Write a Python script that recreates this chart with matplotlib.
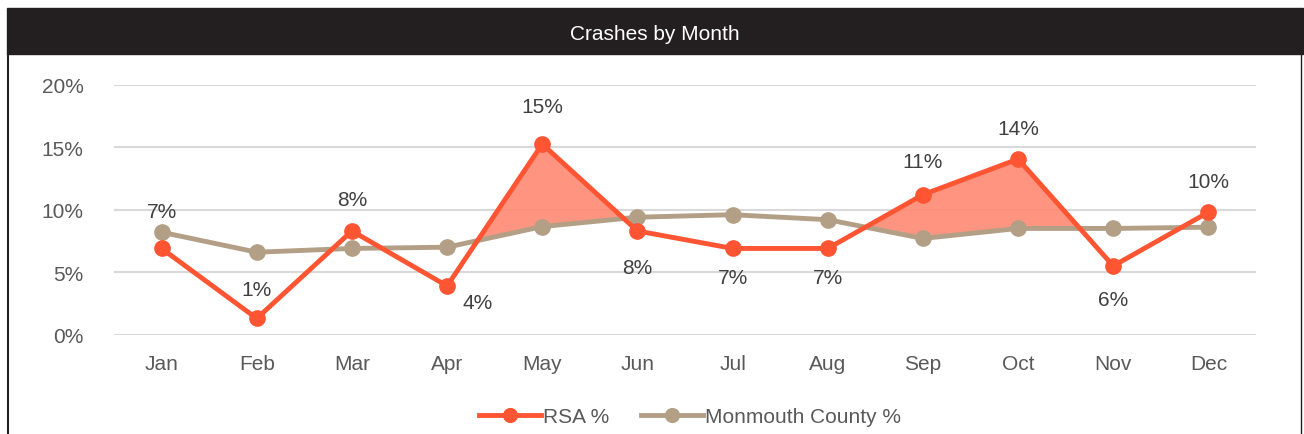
import numpy as np
import matplotlib.pyplot as plt
from matplotlib.patches import Rectangle
from matplotlib.lines import Line2D

plt.rcParams['font.family'] = ['Liberation Sans Narrow', 'Liberation Sans', 'DejaVu Sans']

months = ['Jan', 'Feb', 'Mar', 'Apr', 'May', 'Jun', 'Jul', 'Aug', 'Sep', 'Oct', 'Nov', 'Dec']
rsa = [6.9, 1.3, 8.3, 3.9, 15.25, 8.3, 6.9, 6.9, 11.2, 14.05, 5.5, 9.8]
county = [8.2, 6.6, 6.9, 7.0, 8.65, 9.4, 9.6, 9.2, 7.7, 8.5, 8.5, 8.6]
rsa_labels = ['7%', '1%', '8%', '4%', '15%', '8%', '7%', '7%', '11%', '14%', '6%', '10%']
# months whose excess over the county gets shaded
highlight = [False, False, False, True, True, True, False, True, True, True, True, False]

RED = '#ff5533'
TAN = '#b39f86'
GREY = '#595959'

fig = plt.figure(figsize=(13.04, 4.35), dpi=100)

# title bar and frame
fig.add_artist(Rectangle((7 / 1304, 1 - 55 / 435), 1296 / 1304, 46 / 435,
                         transform=fig.transFigure, color='#231f20', zorder=0))
fig.add_artist(Line2D([7.5 / 1304, 7.5 / 1304], [0, 1 - 55 / 435],
                      transform=fig.transFigure, color='#231f20', lw=1.5))
fig.add_artist(Line2D([1301 / 1304, 1301 / 1304], [0, 1 - 55 / 435],
                      transform=fig.transFigure, color='#231f20', lw=1.0))
fig.text(655 / 1304, 1 - 34 / 435, 'Crashes by Month', color='white',
         fontsize=15, ha='center', va='center')

ax = fig.add_axes([114 / 1304, 1 - 335.7 / 435, 1142 / 1304, 250 / 435])
x = np.arange(len(months))
r = np.array(rsa)
c = np.array(county)

ax.fill_between(x, r, c, where=(r > c) & np.array(highlight), interpolate=True,
                color='#ff8a73', alpha=0.9, lw=0, zorder=1)
ax.plot(x, county, color=TAN, lw=3.5, marker='o', ms=11, zorder=2,
        label='Monmouth County %')
ax.plot(x, rsa, color=RED, lw=3.5, marker='o', ms=11, zorder=3, label='RSA %')

# label offsets in points (dx, dy)
offsets = [(0, 15), (0, 21), (0, 23), (22, -12), (0, 27), (0, -26), (0, -21),
           (0, -21), (0, 24), (0, 22), (0, -24), (0, 22)]
for i, lab in enumerate(rsa_labels):
    base = max(rsa[i], county[i]) if i == 0 else rsa[i]
    ax.annotate(lab, (x[i], base), xytext=offsets[i], textcoords='offset points',
                ha='center', va='center', fontsize=15, color='#404040')

ax.set_xlim(-0.5, 11.5)
ax.set_ylim(0, 20)
ax.set_yticks([0, 5, 10, 15, 20])
ax.set_yticklabels(['0%', '5%', '10%', '15%', '20%'])
ax.set_xticks(x)
ax.set_xticklabels(months)
ax.tick_params(axis='both', length=0, labelsize=15, labelcolor=GREY)
ax.tick_params(axis='y', pad=22)
ax.tick_params(axis='x', pad=14)
ax.grid(axis='y', color='#d9d9d9', lw=1.5)
ax.set_axisbelow(True)
for s in ax.spines.values():
    s.set_visible(False)

handles, labels = ax.get_legend_handles_labels()
fig.legend(handles[::-1], labels[::-1], loc='center', bbox_to_anchor=(690 / 1304, 1 - 418 / 435),
           ncol=2, frameon=False, fontsize=15, labelcolor=GREY, handlelength=3,
           handletextpad=0.1, columnspacing=1.5, markerscale=0.9)

plt.savefig('out.png', dpi=100)
